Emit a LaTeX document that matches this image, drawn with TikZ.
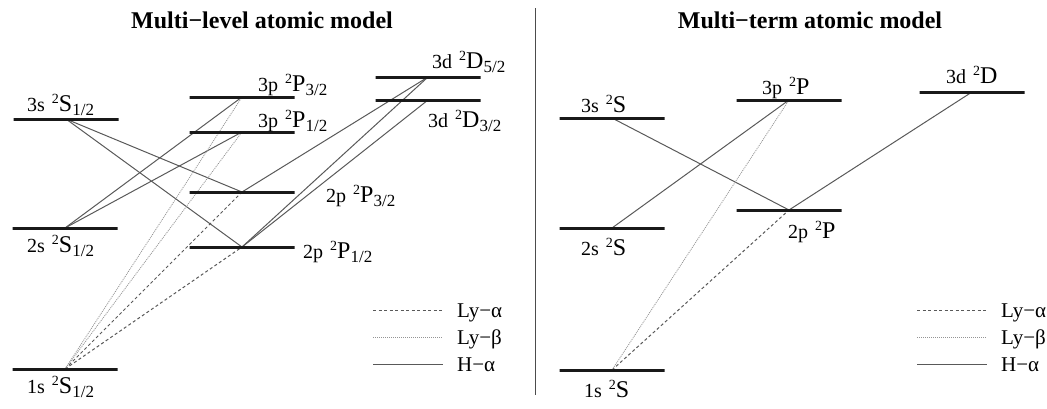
\documentclass[tikz,border=0pt]{standalone}
\usepackage{fontspec}
\setmainfont{Liberation Serif}
\usepackage{tikz}
\usetikzlibrary{backgrounds}
\colorlet{levelBlack}{black!90}
\colorlet{lineGray}{black!65}
\colorlet{dotGray}{black!42}
% term symbol: orbital, superscript multiplicity 2, letter, J subscript
\newcommand{\term}[3]{{\fontsize{20}{20}\selectfont #1}\hspace{7pt}\raisebox{8pt}{\fontsize{14}{14}\selectfont 2}#2\raisebox{-4pt}{\fontsize{17}{17}\selectfont #3}}
\tikzset{
  energylevel/.style={
    draw=levelBlack,
    line width=3pt,
    inner sep=0pt,
    outer sep=0pt,
    minimum height=0pt,
    minimum width=#1
  },
  energylevel/.default=105pt,
  termlabel/.style={
    inner sep=0pt,
    anchor=base west,
    font=\fontsize{24}{26}\selectfont
  },
  paneltitle/.style={
    inner sep=0pt,
    anchor=base,
    font=\fontsize{24}{26}\selectfont\bfseries
  },
  halpha/.style={draw=lineGray, line width=1pt},
  lyalpha/.style={draw=lineGray, line width=1pt, dash pattern=on 3pt off 2.5pt},
  lybeta/.style={draw=dotGray, line width=0.8pt, dash pattern=on 1pt off 1pt},
  legendtext/.style={
    inner sep=0pt,
    anchor=base west,
    font=\fontsize{21}{23}\selectfont
  },
  separator/.style={draw=black!70, line width=1pt}
}

\begin{document}
\begin{tikzpicture}[x=1pt,y=-1pt]
\useasboundingbox (0,0) rectangle (1047,408);

\node[paneltitle] (titleL) at (262,28) {Multi−level atomic model};
\node[paneltitle] (titleR) at (810,28) {Multi−term atomic model};

\coordinate (sepTop) at (535,8);
\coordinate (sepBot) at (535,395);
\draw[separator] (sepTop) -- (sepBot);

% multi-level model
\node[energylevel] (s3L) at (66,119) {};
\node[energylevel] (s2L) at (65,228) {};
\node[energylevel] (s1L) at (65,369) {};
\node[energylevel] (p3aL) at (242,97) {};
\node[energylevel] (p3bL) at (242,132) {};
\node[energylevel] (p2aL) at (242,192) {};
\node[energylevel] (p2bL) at (242,247) {};
\node[energylevel] (d3aL) at (428,77) {};
\node[energylevel] (d3bL) at (428,100) {};

\node[termlabel] (s3Ltxt) at (27,111) {\term{3s}{S}{1/2}};
\node[termlabel] (s2Ltxt) at (27,252) {\term{2s}{S}{1/2}};
\node[termlabel] (s1Ltxt) at (27,393) {\term{1s}{S}{1/2}};
\node[termlabel] (p3aLtxt) at (258,91) {\term{3p}{P}{3/2}};
\node[termlabel] (p3bLtxt) at (258,127) {\term{3p}{P}{1/2}};
\node[termlabel] (p2aLtxt) at (326,202) {\term{2p}{P}{3/2}};
\node[termlabel] (p2bLtxt) at (303,258) {\term{2p}{P}{1/2}};
\node[termlabel] (d3aLtxt) at (432,68) {\term{3d}{D}{5/2}};
\node[termlabel] (d3bLtxt) at (428,127) {\term{3d}{D}{3/2}};

% multi-term model
\node[energylevel] (s3R) at (612,118) {};
\node[energylevel] (s2R) at (612,228) {};
\node[energylevel] (s1R) at (612,370) {};
\node[energylevel] (p3R) at (789,100) {};
\node[energylevel] (p2R) at (789,210) {};
\node[energylevel] (d3R) at (972,92) {};

\node[termlabel] (s3Rtxt) at (581,112) {\term{3s}{S}{}};
\node[termlabel] (s2Rtxt) at (581,255) {\term{2s}{S}{}};
\node[termlabel] (s1Rtxt) at (584,397) {\term{1s}{S}{}};
\node[termlabel] (p3Rtxt) at (762,94) {\term{3p}{P}{}};
\node[termlabel] (p2Rtxt) at (788,238) {\term{2p}{P}{}};
\node[termlabel] (d3Rtxt) at (946,83) {\term{3d}{D}{}};

\begin{scope}[on background layer]
\draw[halpha] (s3L.center) -- (p2aL.center);
\draw[halpha] (s3L.center) -- (p2bL.center);
\draw[halpha] (s2L.center) -- (p3aL.center);
\draw[halpha] (s2L.center) -- (p3bL.center);
\draw[halpha] (d3aL.center) -- (p2aL.center);
\draw[halpha] (d3aL.center) -- (p2bL.center);
\draw[halpha] (d3bL.center) -- (p2bL.center);
\draw[lyalpha] (s1L.center) -- (p2aL.center);
\draw[lyalpha] (s1L.center) -- (p2bL.center);
\draw[lybeta] (s1L.center) -- (p3aL.center);
\draw[lybeta] (s1L.center) -- (p3bL.center);

\draw[halpha] (s3R.center) -- (p2R.center);
\draw[halpha] (s2R.center) -- (p3R.center);
\draw[halpha] (d3R.center) -- (p2R.center);
\draw[lyalpha] (s1R.center) -- (p2R.center);
\draw[lybeta] (s1R.center) -- (p3R.center);
\end{scope}

% legends
\foreach \lx/\px in {373/L, 917/R} {
  \coordinate (lyaA\px) at (\lx,310);
  \coordinate (lyaB\px) at (\lx+70,310);
  \coordinate (lybA\px) at (\lx,337);
  \coordinate (lybB\px) at (\lx+70,337);
  \coordinate (haA\px) at (\lx,364);
  \coordinate (haB\px) at (\lx+70,364);
  \draw[lyalpha] (lyaA\px) -- (lyaB\px);
  \draw[lybeta] (lybA\px) -- (lybB\px);
  \draw[halpha] (haA\px) -- (haB\px);
  \node[legendtext] (lyaTxt\px) at (\lx+84,317) {Ly−α};
  \node[legendtext] (lybTxt\px) at (\lx+84,344) {Ly−β};
  \node[legendtext] (haTxt\px) at (\lx+84,371) {H−α};
}

\end{tikzpicture}
\end{document}
